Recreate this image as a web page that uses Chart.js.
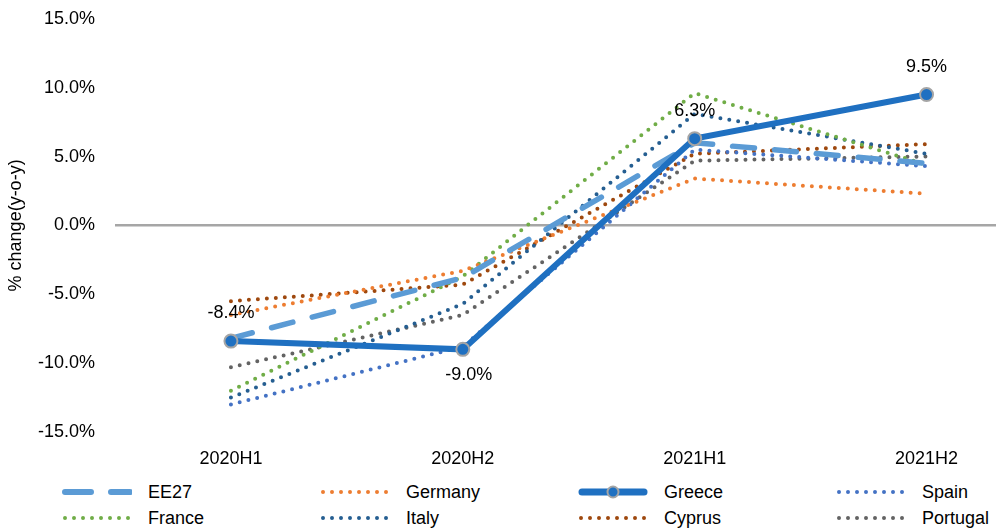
<!DOCTYPE html>
<html>
<head>
<meta charset="utf-8">
<script src="https://cdn.jsdelivr.net/npm/chart.js@4"></script>
<style>
  html, body { margin: 0; padding: 0; background: #fff; overflow: hidden; width: 996px; height: 530px; }
  #wrap { position: relative; width: 996px; height: 530px; overflow: hidden; }
  #chart { position: absolute; left: 0; top: -12px; }
  #legend { position: absolute; left: 62px; top: 480px; display: grid; grid-template-columns: repeat(4, 258px); row-gap: 2px;
            font-family: "Liberation Sans", Arial, sans-serif; font-size: 18px; color: #000; }
  .item { display: flex; align-items: center; height: 24px; }
  .item svg { margin-right: 16px; flex: none; }
</style>
</head>
<body>
<div id="wrap">
  <canvas id="chart" width="1051" height="484"></canvas>
  <div id="legend"></div>
</div>
<script>
// Data (% change y-o-y)
var categories = ['2020H1', '2020H2', '2021H1', '2021H2'];
var ee27     = [-8.2, -3.8, 6.0, 4.5];
var germany  = [-6.5, -3.3, 3.4, 2.3];
var greece   = [-8.4, -9.0, 6.3, 9.5];
var spain    = [-13.0, -8.8, 5.5, 4.3];
var france   = [-12.0, -3.7, 9.6, 4.4];
var italy    = [-12.5, -5.7, 8.1, 5.2];
var cyprus   = [-5.5, -4.3, 5.2, 5.9];
var portugal = [-10.3, -6.5, 4.7, 5.0];
var yTicks   = [-15, -10, -5, 0, 5, 10, 15];

var FONT = '"Liberation Sans", Arial, sans-serif';

function dotted(label, data, color) {
  return {
    label: label, data: data, borderColor: color, backgroundColor: color,
    borderWidth: 4, borderDash: [0, 9], borderCapStyle: 'round',
    pointRadius: 0, tension: 0, order: 2, kind: 'dot'
  };
}

var datasets = [
  { label: 'EE27', data: ee27, borderColor: '#5B9BD5', backgroundColor: '#5B9BD5',
    borderWidth: 5.5, borderDash: [22, 20], borderCapStyle: 'round', pointRadius: 0, order: 1, kind: 'dash' },
  dotted('Germany', germany, '#ED7D31'),
  { label: 'Greece', data: greece, borderColor: '#1F70C1', backgroundColor: '#1F70C1',
    borderWidth: 6, pointRadius: 6.5, pointBorderColor: '#A5A5A5', pointBorderWidth: 2,
    pointBackgroundColor: '#1F70C1', order: 0, kind: 'solid' },
  dotted('Spain', spain, '#4472C4'),
  dotted('France', france, '#70AD47'),
  dotted('Italy', italy, '#255E91'),
  dotted('Cyprus', cyprus, '#9E480E'),
  dotted('Portugal', portugal, '#636363')
];

// labels on the Greece series
var greeceLabels = {
  id: 'greeceLabels',
  afterDatasetsDraw: function (chart) {
    var idx = chart.data.datasets.findIndex(function (d) { return d.label === 'Greece'; });
    var meta = chart.getDatasetMeta(idx);
    var ctx = chart.ctx;
    ctx.save();
    ctx.font = '18px ' + FONT;
    ctx.fillStyle = '#000';
    ctx.textAlign = 'center';
    ctx.textBaseline = 'middle';
    meta.data.forEach(function (pt, i) {
      var v = greece[i];
      var below = i === 1;
      ctx.fillText(v.toFixed(1) + '%', pt.x + (below ? 6 : 0), pt.y + (below ? 26 : -28));
    });
    ctx.restore();
  }
};

new Chart(document.getElementById('chart'), {
  type: 'line',
  data: { labels: categories, datasets: datasets },
  plugins: [greeceLabels],
  options: {
    responsive: false,
    animation: false,
    layout: { padding: { top: 6, right: 2, bottom: 0, left: 0 } },
    plugins: { legend: { display: false }, tooltip: { enabled: false } },
    scales: {
      x: {
        type: 'category',
        offset: true,
        grid: { display: false, drawTicks: false },
        border: { display: false },
        ticks: { color: '#000', font: { size: 18, family: FONT }, padding: 16, maxRotation: 0 },
        afterFit: function (s) { s.height = 40; }
      },
      y: {
        min: -15, max: 15,
        afterBuildTicks: function (s) { s.ticks = yTicks.map(function (v) { return { value: v }; }); },
        grid: {
          drawTicks: false,
          color: function (c) { return c.tick && c.tick.value === 0 ? '#A6A6A6' : 'rgba(0,0,0,0)'; },
          lineWidth: function (c) { return c.tick && c.tick.value === 0 ? 2.5 : 0; }
        },
        border: { display: false },
        ticks: { color: '#000', font: { size: 18, family: FONT }, padding: 20,
                 callback: function (v) { return v.toFixed(1) + '%'; } },
        title: { display: true, text: '% change(y-o-y)', color: '#000',
                 font: { size: 18, family: FONT }, padding: { top: 5, bottom: 0 } },
        afterFit: function (s) { s.width = 115; }
      }
    }
  }
});

// HTML legend in 4 columns, 2 rows
var legend = document.getElementById('legend');
datasets.forEach(function (d) {
  var item = document.createElement('div');
  item.className = 'item';
  var svg = '<svg width="70" height="14" viewBox="0 0 70 14">';
  if (d.kind === 'dash') {
    svg += '<line x1="3" y1="7" x2="68" y2="7" stroke="' + d.borderColor + '" stroke-width="6" stroke-linecap="round" stroke-dasharray="26 20"/>';
  } else if (d.kind === 'solid') {
    svg += '<line x1="4" y1="7" x2="66" y2="7" stroke="' + d.borderColor + '" stroke-width="7" stroke-linecap="round"/>' +
           '<circle cx="35" cy="7" r="5.5" fill="' + d.borderColor + '" stroke="#A5A5A5" stroke-width="2"/>';
  } else {
    svg += '<line x1="3" y1="7" x2="70" y2="7" stroke="' + d.borderColor + '" stroke-width="4" stroke-linecap="round" stroke-dasharray="0 9"/>';
  }
  svg += '</svg>';
  item.innerHTML = svg + '<span>' + d.label + '</span>';
  legend.appendChild(item);
});
</script>
</body>
</html>
